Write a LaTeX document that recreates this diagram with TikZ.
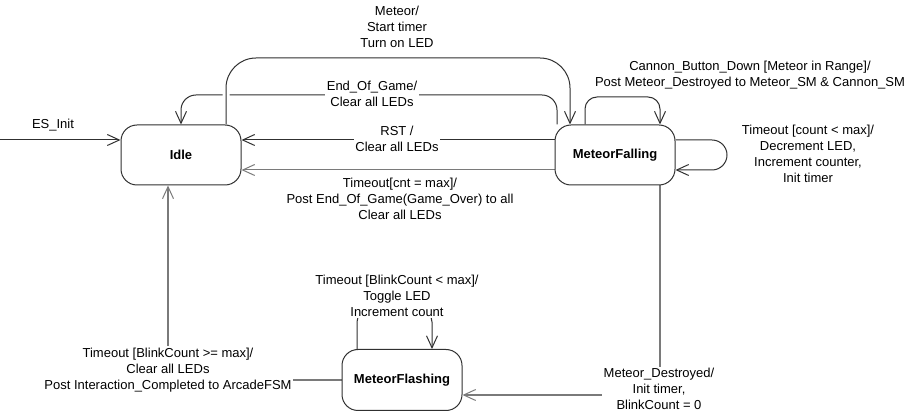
\documentclass[tikz,border=0pt]{standalone}
\usepackage{fontspec}
\setmainfont{Liberation Sans}
\usetikzlibrary{arrows.meta,calc}
\pgfdeclarelayer{background}
\pgfsetlayers{background,main}
\definecolor{edge}{HTML}{303030}
\definecolor{greyline}{HTML}{7A7A7A}
\tikzset{
  state/.style={draw=edge, line width=1pt, fill=white, rounded corners=16pt,
    minimum width=120pt, minimum height=60pt, inner sep=0pt,
    font=\fontsize{13}{16}\selectfont\bfseries},
  tr/.style={draw=edge, line width=1pt, -{Straight Barb[length=12pt,width=11pt]}},
  trg/.style={draw=greyline, line width=1.6pt, -{Straight Barb[length=12pt,width=11pt,line width=1pt]}},
  lbl/.style={align=center, font=\fontsize{13}{16}\selectfont, inner sep=1.5pt},
  lblw/.style={lbl, fill=white},
}
\begin{document}
\begin{tikzpicture}[x=1pt,y=-1pt]
\useasboundingbox (0,0) rectangle (916,419);
\node[state] (Idle) at (181,155) {Idle};
\node[state] (MF) at (615,155) {MeteorFalling};
\node[state, minimum height=61pt] (MFl) at (402,380) {MeteorFlashing};
\coordinate (start) at (0,140);
\begin{pgfonlayer}{background}
% ES_Init
\draw[tr] (start) -- ($(Idle.west)+(0,-15)$);
\node[lbl] (lInit) at (53,125) {ES\_Init};
% End_Of_Game
\draw[tr, rounded corners=15pt] ($(MF.north)+(-58,0)$) -- (557,95) -- (181,95) -- (Idle.north);
\node[lblw] (lEnd) at (372,94) {End\_Of\_Game/\\Clear all LEDs};
% Meteor
\draw[tr, rounded corners=30pt, preaction={draw=white, line width=7pt, -}]
  ($(Idle.north)+(45,0)$) -- (226,58) -- (570,58) -- ($(MF.north)+(-45,0)$);
\node[lbl] (lMeteor) at (397,27) {Meteor/\\Start timer\\Turn on LED};
% RST
\draw[tr] ($(MF.west)+(0,-15)$) -- ($(Idle.east)+(0,-15)$);
\node[lblw] (lRST) at (397,139) {RST /\\Clear all LEDs};
% Timeout cnt = max
\draw[tr, draw=greyline] ($(MF.west)+(0,15)$) -- ($(Idle.east)+(0,15)$);
\node[lbl] (lTcnt) at (400,199) {Timeout[cnt = max]/\\Post End\_Of\_Game(Game\_Over) to all\\Clear all LEDs};
% Cannon self loop
\draw[tr, rounded corners=12pt] ($(MF.north)+(-30,0)$) -- (585,97) -- (660,97) -- ($(MF.north)+(45,0)$);
\node[lbl] (lCannon) at (750,75) {Cannon\_Button\_Down [Meteor in Range]/\\Post Meteor\_Destroyed to Meteor\_SM \& Cannon\_SM};
% Timeout self loop right
\draw[tr, rounded corners=15pt] ($(MF.east)+(0,-15)$) -- (727,140) -- (727,170) -- ($(MF.east)+(0,15)$);
\node[lbl] (lTright) at (808,154) {Timeout [count < max]/\\Decrement LED,\\Increment counter,\\Init timer};
% Falling -> Flashing
\draw[trg] ($(MF.south)+(45,0)$) |- ($(MFl.east)+(0,15)$);
\node[lblw] (lDest) at (659,389) {Meteor\_Destroyed/\\Init timer,\\BlinkCount = 0};
% Flashing self loop
\draw[tr, rounded corners=10pt] ($(MFl.north)+(-45,0)$) -- (357,312) -- (432,312) -- ($(MFl.north)+(30,0)$);
\node[lblw] (lFlash) at (397,296) {Timeout [BlinkCount < max]/\\Toggle LED\\Increment count};
% Flashing -> Idle
\draw[trg] (MFl.west) -| ($(Idle.south)+(-13,0)$);
\node[lblw] (lDone) at (168,370) {Timeout [BlinkCount >= max]/\\Clear all LEDs\\Post Interaction\_Completed to ArcadeFSM};
\end{pgfonlayer}
\end{tikzpicture}
\end{document}
